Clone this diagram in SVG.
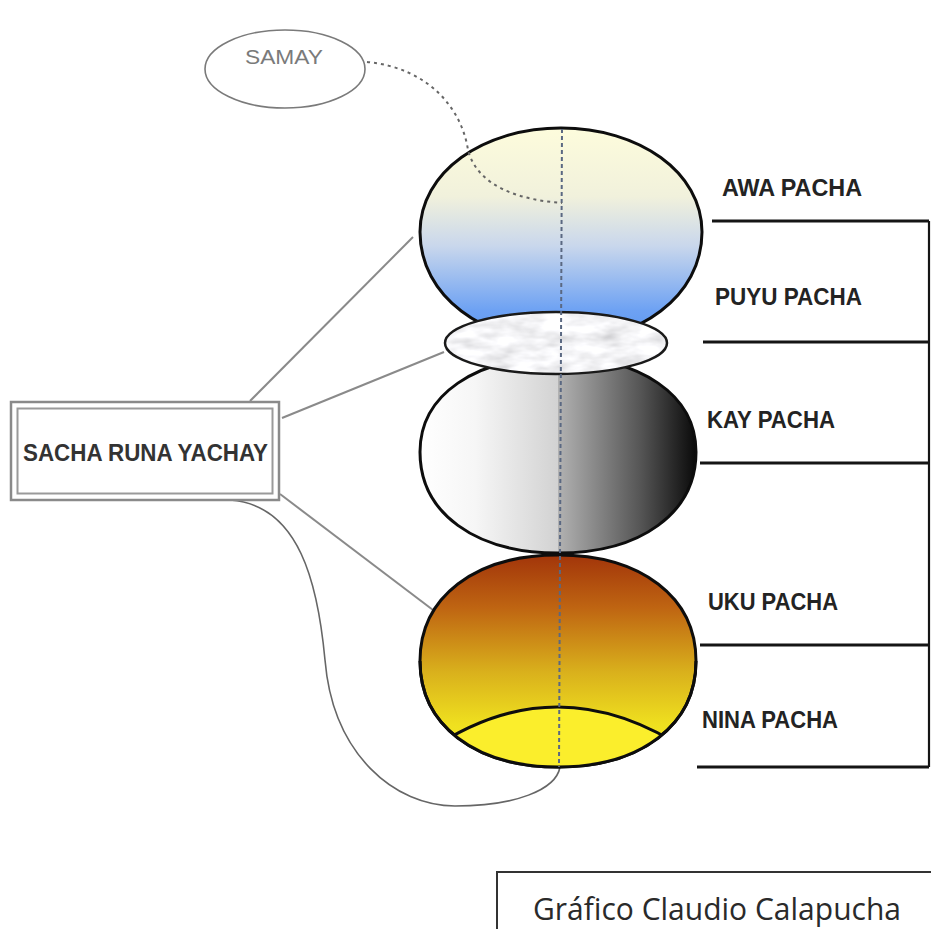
<svg xmlns="http://www.w3.org/2000/svg" width="931" height="929" viewBox="0 0 931 929">
<style>
.lbl{font-family:"Liberation Sans",Arial,sans-serif;font-weight:bold;font-size:23px;fill:#232323}
.edge{fill:none;stroke:#8a8a8a;stroke-width:2}
.bracket{fill:none;stroke:#151515;stroke-width:3}
.body{stroke:#0d0d0d;stroke-width:3}
</style>
<defs>
<linearGradient id="gAwa" x1="0" y1="0" x2="0" y2="1">
<stop offset="0" stop-color="#fdfcdc"/>
<stop offset="0.32" stop-color="#f1f1dc"/>
<stop offset="0.55" stop-color="#c9d7ec"/>
<stop offset="0.85" stop-color="#6ea2f3"/>
<stop offset="1" stop-color="#5a94f0"/>
</linearGradient>
<linearGradient id="gKay" x1="420" y1="0" x2="696" y2="0" gradientUnits="userSpaceOnUse">
<stop offset="0" stop-color="#ffffff"/>
<stop offset="0.2" stop-color="#f6f6f6"/>
<stop offset="0.5" stop-color="#d2d2d2"/>
<stop offset="0.5" stop-color="#b2b2b2"/>
<stop offset="0.8" stop-color="#555"/>
<stop offset="1" stop-color="#0a0a0a"/>
</linearGradient>
<linearGradient id="gUku" x1="0" y1="555" x2="0" y2="767" gradientUnits="userSpaceOnUse">
<stop offset="0" stop-color="#a2350a"/>
<stop offset="0.25" stop-color="#bf6512"/>
<stop offset="0.55" stop-color="#d9b01c"/>
<stop offset="0.8" stop-color="#efe01f"/>
<stop offset="1" stop-color="#f7ec22"/>
</linearGradient>
<filter id="marble" x="0" y="0" width="1" height="1">
<feTurbulence type="fractalNoise" baseFrequency="0.035 0.09" numOctaves="3" seed="4" result="n"/>
<feColorMatrix in="n" type="matrix" values="0.6 0 0 0 0.6  0.6 0 0 0 0.6  0.6 0 0 0 0.62  0 0 0 0 1" result="c"/>
<feComposite in="c" in2="SourceGraphic" operator="in"/>
</filter>
<clipPath id="ukuClip">
<path d="M420,661 C420,597 475,555 558,555 C641,555 696,597 696,661 C696,725 641,767 558,767 C475,767 420,725 420,661Z"/>
</clipPath>
</defs>
<rect width="931" height="929" fill="#fff"/>

<g id="connectors">
<path class="edge" d="M250,401 L413,237"/>
<path class="edge" d="M282,418 L444,352"/>
<path class="edge" d="M280,494 L433,610"/>
<path fill="none" stroke="#666" stroke-width="1.6" d="M230,500 C300,505 318,585 325,660 C333,755 395,806 455,806 C515,806 556,790 560,767"/>
</g>

<g id="awa-puyu">
<path class="body" fill="url(#gAwa)" d="M420,232 C420,172 483,128 561,128 C639,128 702,172 702,232 C702,296 639,342 561,342 C483,342 420,296 420,232Z"/>
</g>
<g id="kay-pacha">
<path class="body" fill="url(#gKay)" d="M420,452 C420,395 475,357 558,357 C641,357 696,395 696,452 C696,513 641,553 558,553 C475,553 420,513 420,452Z"/>
</g>
<g id="cloud">
<ellipse cx="556" cy="343" rx="111" ry="31" fill="#ececec" filter="url(#marble)"/>
<ellipse cx="556" cy="343" rx="111" ry="31" fill="none" stroke="#1a1a1a" stroke-width="2.5"/>
</g>
<g id="uku-nina">
<path class="body" fill="url(#gUku)" d="M420,661 C420,597 475,555 558,555 C641,555 696,597 696,661 C696,725 641,767 558,767 C475,767 420,725 420,661Z"/>
<g clip-path="url(#ukuClip)">
<path fill="#fbee2c" d="M430,750 Q558,663 690,752 L690,800 L430,800Z"/>
<path fill="none" stroke="#0d0d0d" stroke-width="3" d="M430,750 Q558,663 690,752"/>
</g>
<path fill="none" stroke="#0d0d0d" stroke-width="3" d="M420,661 C420,725 475,767 558,767 C641,767 696,725 696,661"/>
</g>

<g id="axis">
<path fill="none" stroke="#5a6882" stroke-width="2" stroke-dasharray="4 3" d="M562,129 L559,767"/>
</g>

<g id="samay">
<ellipse cx="285" cy="69" rx="80" ry="39" fill="#fff" stroke="#7a7a7a" stroke-width="1.6"/>
<text x="245" y="64" textLength="78" lengthAdjust="spacingAndGlyphs" style="font-family:'Liberation Sans',Arial,sans-serif;font-size:20px;fill:#7a7a7a">SAMAY</text>
</g>
<g id="samay-link">
<path fill="none" stroke="#666" stroke-width="2" stroke-dasharray="3 4" d="M367,62 C430,68 462,110 468,150 C478,188 522,200 562,203"/>
</g>

<g id="sacha-runa-yachay">
<rect x="11" y="402" width="268" height="98" fill="#fff" stroke="#8a8a8a" stroke-width="2.5"/>
<rect x="17.5" y="408.5" width="255" height="85" fill="none" stroke="#9a9a9a" stroke-width="2"/>
<text class="lbl" x="23" y="461" textLength="245" lengthAdjust="spacingAndGlyphs" style="fill:#333">SACHA RUNA YACHAY</text>
</g>

<g id="bracket">
<path class="bracket" d="M712,221 H929 M703,342 H929 M700,463 H929 M700,645 H929 M697,767 H929"/>
<path fill="none" stroke="#151515" stroke-width="2.2" d="M929,221 V767"/>
</g>

<g id="labels">
<text class="lbl" x="722" y="196" textLength="140" lengthAdjust="spacingAndGlyphs">AWA PACHA</text>
<text class="lbl" x="715" y="305" textLength="147" lengthAdjust="spacingAndGlyphs">PUYU PACHA</text>
<text class="lbl" x="707" y="428" textLength="128" lengthAdjust="spacingAndGlyphs">KAY PACHA</text>
<text class="lbl" x="708" y="610" textLength="130" lengthAdjust="spacingAndGlyphs">UKU PACHA</text>
<text class="lbl" x="702" y="728" textLength="136" lengthAdjust="spacingAndGlyphs">NINA PACHA</text>
</g>

<g id="credit">
<rect x="497" y="872" width="450" height="80" fill="#fff" stroke="#333" stroke-width="2"/>
<text x="533" y="920" textLength="368" lengthAdjust="spacingAndGlyphs" style="font-family:'Open Sans','Liberation Sans',sans-serif;font-size:31px;fill:#2a2a2a">Gráfico Claudio Calapucha</text>
</g>
</svg>
